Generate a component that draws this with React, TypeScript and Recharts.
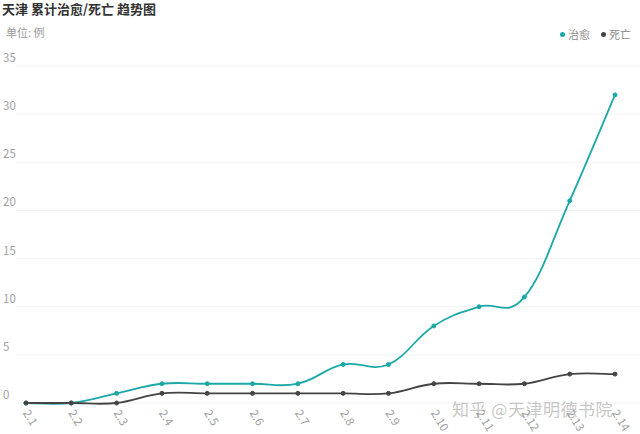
import { LineChart, Line, XAxis, YAxis, CartesianGrid } from "recharts";

const dates = ["2.1", "2.2", "2.3", "2.4", "2.5", "2.6", "2.7", "2.8", "2.9", "2.10", "2.11", "2.12", "2.13", "2.14"];
const cured = [0, 0, 1, 2, 2, 2, 2, 4, 4, 8, 10, 11, 21, 32];
const deaths = [0, 0, 0, 1, 1, 1, 1, 1, 1, 2, 2, 2, 3, 3];
const yTicks = [0, 5, 10, 15, 20, 25, 30, 35];

const TEAL = "#1aa9a7";
const DARK = "#444444";
const FONT = '"Noto Sans CJK SC", "Noto Sans", sans-serif';

const data = dates.map((d, i) => ({ date: d, cured: cured[i], deaths: deaths[i] }));

// smooth bezier through the points, a bit like echarts' smooth lines
const smoothCurve = (context: any) => {
  let pts: number[][] = [];
  const k = 0.2;
  return {
    areaStart() {},
    areaEnd() {},
    lineStart() {
      pts = [];
    },
    point(x: number, y: number) {
      pts.push([+x, +y]);
    },
    lineEnd() {
      if (!pts.length) return;
      context.moveTo(pts[0][0], pts[0][1]);
      for (let i = 0; i < pts.length - 1; i++) {
        const p0 = pts[i - 1] || pts[i];
        const p1 = pts[i];
        const p2 = pts[i + 1];
        const p3 = pts[i + 2] || p2;
        context.bezierCurveTo(
          p1[0] + k * (p2[0] - p0[0]),
          p1[1] + k * (p2[1] - p0[1]),
          p2[0] - k * (p3[0] - p1[0]),
          p2[1] - k * (p3[1] - p1[1]),
          p2[0],
          p2[1]
        );
      }
    },
  };
};

const YTick = (props: any) => {
  const { y, payload } = props;
  return (
    <text x={3} y={y - 4} fill="#a0a0a0" fontSize={11.5} fontFamily={FONT}>
      {payload.value}
    </text>
  );
};

const XTick = (props: any) => {
  const { x, y, payload } = props;
  return (
    <text
      x={x}
      y={y}
      dy={4}
      fill="#a0a0a0"
      fontSize={11.5}
      fontFamily={FONT}
      textAnchor="start"
      transform={`rotate(58 ${x} ${y})`}
    >
      {payload.value}
    </text>
  );
};

export default function App() {
  return (
    <div style={{ position: "relative", width: 640, height: 434, background: "#fff" }}>
      <style>{`body{margin:0}`}</style>
      <div
        style={{
          position: "absolute",
          left: 2,
          top: 0,
          fontFamily: FONT,
          fontSize: 13,
          fontWeight: "bold",
          color: "#333",
          lineHeight: "17px",
        }}
      >
        天津 累计治愈/死亡 趋势图
      </div>
      <div style={{ position: "absolute", left: 6, top: 25, fontFamily: FONT, fontSize: 11, color: "#999", lineHeight: "15px" }}>
        单位: 例
      </div>
      <div
        style={{
          position: "absolute",
          right: 9,
          top: 27,
          display: "flex",
          alignItems: "center",
          fontFamily: FONT,
          fontSize: 11,
          color: "#8a8a8a",
          lineHeight: "15px",
        }}
      >
        <span style={{ width: 5, height: 5, borderRadius: 3, background: TEAL, marginRight: 3 }} />
        <span style={{ marginRight: 11 }}>治愈</span>
        <span style={{ width: 5, height: 5, borderRadius: 3, background: DARK, marginRight: 3 }} />
        <span>死亡</span>
      </div>
      <LineChart width={640} height={434} data={data} margin={{ top: 66, right: 25, bottom: 0, left: 0 }}>
        <CartesianGrid vertical={false} stroke="#f3f3f3" x={16} width={624} />
        <XAxis
          dataKey="date"
          axisLine={false}
          tickLine={false}
          height={31}
          interval={0}
          tick={<XTick />}
        />
        <YAxis
          domain={[0, 35]}
          ticks={yTicks}
          width={26}
          axisLine={false}
          tickLine={false}
          tick={<YTick />}
        />
        <Line
          dataKey="cured"
          type={smoothCurve as any}
          stroke={TEAL}
          strokeWidth={1.8}
          dot={{ r: 2, fill: TEAL, stroke: TEAL, strokeWidth: 1 }}
          activeDot={false}
          isAnimationActive={false}
        />
        <Line
          dataKey="deaths"
          type={smoothCurve as any}
          stroke={DARK}
          strokeWidth={1.8}
          dot={{ r: 2, fill: DARK, stroke: DARK, strokeWidth: 1 }}
          activeDot={false}
          isAnimationActive={false}
        />
      </LineChart>
      <div
        style={{
          position: "absolute",
          left: 452,
          top: 396,
          fontFamily: FONT,
          fontSize: 17,
          color: "rgba(150,150,150,0.55)",
          letterSpacing: 0.5,
          pointerEvents: "none",
        }}
      >
        知乎 @天津明德书院
      </div>
    </div>
  );
}
